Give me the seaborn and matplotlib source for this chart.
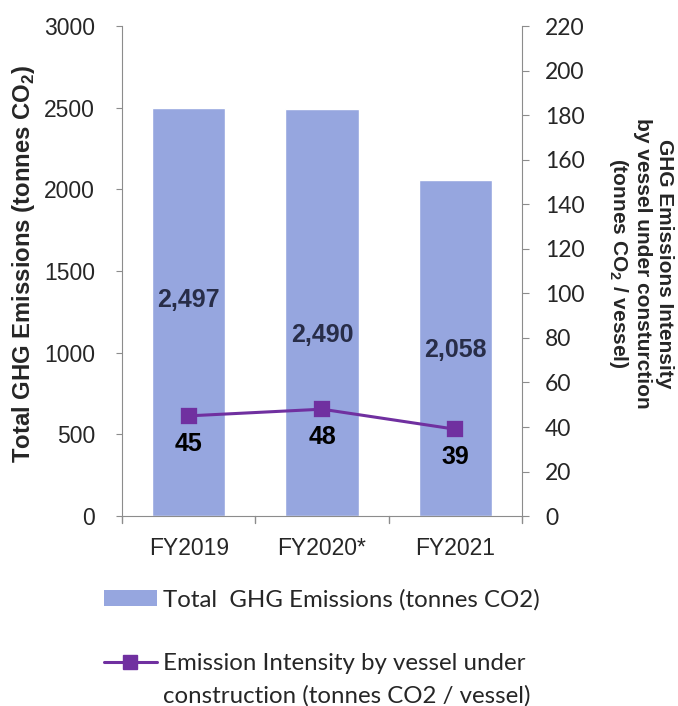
import matplotlib
matplotlib.use("Agg")
import matplotlib.pyplot as plt
import seaborn as sns
from matplotlib.patches import Patch
from matplotlib.lines import Line2D

# -------------------------------
# Data
# -------------------------------
years = ["FY2019", "FY2020*", "FY2021"]
total_ghg = [2497, 2490, 2058]
intensity = [45, 48, 39]
total_labels = ["2,497", "2,490", "2,058"]
# where the bar value labels sit (left axis units)
total_label_y = [1322, 1108, 1016]

bar_color = "#96A6DF"
line_color = "#7030A0"
spine_color = "#8C8C8C"

sns.set_style("white")
plt.rcParams["font.family"] = ["Liberation Sans", "DejaVu Sans"]
plt.rcParams["mathtext.fontset"] = "custom"
plt.rcParams["mathtext.rm"] = "Liberation Sans"
plt.rcParams["mathtext.bf"] = "Liberation Sans:bold"

fig = plt.figure(figsize=(6.78, 7.06), dpi=100)
ax = fig.add_axes([0.180, 0.269, 0.590, 0.694])

# -------------------------------
# Bars
# -------------------------------
sns.barplot(x=years, y=total_ghg, color=bar_color, width=0.55,
            saturation=1, ax=ax)
ax.set_ylim(0, 3000)
ax.set_xlim(-0.5, 2.5)
ax.set_yticks(range(0, 3001, 500))
ax.tick_params(axis="y", labelsize=16.5, length=4.5, color=spine_color,
               direction="out", left=True, pad=15)
ax.tick_params(axis="x", labelsize=16.5, length=0, pad=15)
ax.set_ylabel("")

for i, (lab, yy) in enumerate(zip(total_labels, total_label_y)):
    ax.text(i, yy, lab, ha="center", va="center", fontsize=18,
            fontweight="bold", color="#282D48")

# category boundary ticks on x axis
for xb in [-0.5, 0.5, 1.5, 2.5]:
    ax.plot([xb, xb], [0, -45], color=spine_color, lw=1, clip_on=False)

for s in ["top", "right"]:
    ax.spines[s].set_visible(False)
for s in ["left", "bottom"]:
    ax.spines[s].set_color(spine_color)

fig.text(24 / 678, 0.627, r"Total GHG Emissions (tonnes CO$_\mathbf{2}$)",
         rotation=90, ha="center", va="center", fontsize=17.2,
         fontweight="bold")

# -------------------------------
# Intensity line
# -------------------------------
ax2 = ax.twinx()
sns.pointplot(x=years, y=intensity, color=line_color, markers="s",
              markersize=10, linewidth=2.2, ax=ax2)
ax2.set_xlim(-0.5, 2.5)
ax2.set_ylim(0, 220)
ax2.set_yticks(range(0, 221, 20))
ax2.tick_params(axis="y", labelsize=16.5, length=5, color=spine_color,
                direction="out", right=True, pad=11.5)
for t in ax2.get_yticklabels():
    t.set_fontfamily("Lato")
ax2.set_ylabel("")
for s in ["top", "left", "bottom"]:
    ax2.spines[s].set_visible(False)
ax2.spines["right"].set_color(spine_color)

for i, v in enumerate(intensity):
    ax2.annotate(str(v), (i, v), xytext=(0, -20), textcoords="offset points",
                 ha="center", va="center", fontsize=18, fontweight="bold",
                 color="black")

fig.text(0.945, 0.627,
         "GHG Emissions Intensity\nby vessel under consturction\n"
         r"(tonnes CO$_\mathbf{2}$ / vessel)",
         rotation=270, ha="center", va="center", fontsize=15,
         fontweight="bold", linespacing=1.2)

# -------------------------------
# Legend
# -------------------------------
handles = [
    Patch(facecolor=bar_color, edgecolor="none"),
    Line2D([], [], linestyle="none"),
    Line2D([0], [0], color=line_color, lw=2.2, marker="s", markersize=10),
    Line2D([], [], linestyle="none"),
]
labels = [
    "Total  GHG Emissions (tonnes CO2)",
    " ",
    "Emission Intensity by vessel under",
    "construction (tonnes CO2 / vessel)",
]
fig.legend(handles, labels, loc="upper left",
           bbox_to_anchor=(104 / 678, 1 - 589 / 706), frameon=False,
           prop={"family": "Lato", "size": 17.3}, handlelength=2.2,
           handleheight=0.6, handletextpad=0.25, labelspacing=0.45,
           borderpad=0, borderaxespad=0)

fig.savefig("out.png", dpi=100)
